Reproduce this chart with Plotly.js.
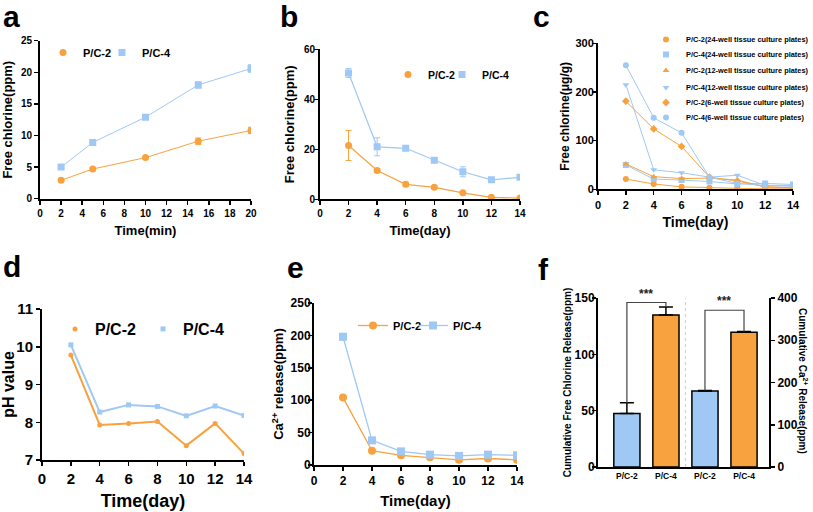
<!DOCTYPE html>
<html><head><meta charset="utf-8">
<script src="https://cdn.plot.ly/plotly-3.0.1.min.js"></script>
<style>html,body{margin:0;padding:0;background:#fff;width:813px;height:512px;overflow:hidden}#chart{width:813px;height:512px;overflow:hidden}</style>
</head><body><div id="chart"></div>
<script>
const ORANGE = '#F7A23E', BLUE = '#9FC8F4';
const FONT = 'Arial, "Liberation Sans", sans-serif';

// ---- panel a ----
const aTime = [2, 5, 10, 15, 20];
const aPC2 = [2.9, 4.7, 6.5, 9.1, 10.8];
const aPC2err = [0.2, 0.2, 0.2, 0.5, 0.5];
const aPC4 = [5.0, 8.9, 12.9, 18.0, 20.6];
const aPC4err = [0.2, 0.3, 0.3, 0.5, 0.6];
// ---- panel b ----
const bDay = [2, 4, 6, 8, 10, 12, 14];
const bPC2 = [21.5, 11.5, 6.0, 4.8, 2.6, 0.8, 0.5];
const bPC2err = [6.0, 0.8, 0.8, 0.5, 0.5, 0.3, 0.3];
const bPC4 = [50.5, 21.0, 20.4, 15.6, 11.0, 7.8, 8.8];
const bPC4err = [1.8, 3.6, 0.8, 0.8, 2.0, 0.5, 0.5];
// ---- panel c ----
const cDay = [2, 4, 6, 8, 10, 12, 14];
const cNames = ['P/C-2(24-well tissue culture plates)', 'P/C-4(24-well tissue culture plates)',
  'P/C-2(12-well tissue culture plates)', 'P/C-4(12-well tissue culture plates)',
  'P/C-2(6-well tissue culture plates)', 'P/C-4(6-well tissue culture plates)'];
const c24PC2 = [21, 11, 5, 3, 2, 1, 1];
const c24PC4 = [50, 21, 19, 16, 11, 12, 10];
const c12PC2 = [52, 26, 22, 23, 19, 5, 3];
const c12PC4 = [215, 40, 34, 25, 29, 8, 6];
const c6PC2 = [181, 124, 88, 25, 17, 5, 3];
const c6PC4 = [255, 147, 116, 25, 12, 8, 8];
// ---- panel d ----
const dDay = [2, 4, 6, 8, 10, 12, 14];
const dPC2 = [9.78, 7.93, 7.97, 8.02, 7.38, 7.97, 7.17];
const dPC4 = [10.05, 8.27, 8.46, 8.42, 8.17, 8.43, 8.18];
// ---- panel e ----
const eDay = [2, 4, 6, 8, 10, 12, 14];
const ePC2 = [104, 22, 15, 12, 8, 10, 8];
const ePC2err = [2, 2, 1.5, 1, 1, 1, 1];
const ePC4 = [198, 38, 21, 16, 14, 16, 15];
const ePC4err = [5, 2, 1.5, 1, 1, 1, 1];
// ---- panel f ----
const fLabels = ['P/C-2', 'P/C-4', 'P/C-2', 'P/C-4'];
const fChlorine = [47.5, 135];
const fChlorineErr = [9.5, 7];
const fCa = [180, 319];
const fCaErr = [1, 2];
const fSigText = ['***', '***'];
const fSigTop = [146, 371];

const W = 813, H = 512;
const px = v => v / W, py = v => 1 - v / H;

function baseAxis(fs) {
  return {showline: true, linewidth: 2, linecolor: '#000', ticks: 'outside', ticklen: 4, tickwidth: 1.5,
    tickcolor: '#000', showgrid: false, zeroline: false, fixedrange: true,
    tickfont: {family: FONT, size: fs, color: '#000', weight: 700}};
}
function xa(l, r, range, dtick, fs, anchor, title, standoff) {
  const a = Object.assign(baseAxis(fs), {domain: [px(l), px(r)], range: range, dtick: dtick, anchor: anchor});
  if (title) a.title = {text: title, standoff: standoff, font: {family: FONT, size: fs + 3, color: '#000', weight: 700}};
  return a;
}
function ya(b, t, range, dtick, fs, anchor, title, standoff, tfs, lso) {
  const a = Object.assign(baseAxis(fs), {domain: [py(b), py(t)], range: range, dtick: dtick, anchor: anchor,
    ticklabelstandoff: lso || 0});
  if (title) a.title = {text: title, standoff: standoff, font: {family: FONT, size: tfs || fs + 3, color: '#000', weight: 700}};
  return a;
}

// one single-entry legend per item, so each legend symbol sits where the reference puts it
const legends = {};
let legCount = 0;
function legendAt(mx, my, fs) {
  legCount++;
  const key = legCount === 1 ? 'legend' : 'legend' + legCount;
  legends[key] = {x: px(mx - 20), y: py(my - (fs > 13 ? 16 : 14)), xanchor: 'left', yanchor: 'top',
    orientation: 'v', bgcolor: 'rgba(0,0,0,0)', font: {family: FONT, size: fs, color: '#000', weight: 700}};
  return key;
}

const traces = [];
function series(x, y, err, color, name, xa_, ya_, leg, opts) {
  traces.push({x: x, y: y, mode: 'lines', line: {color: color, width: opts.lw}, xaxis: xa_, yaxis: ya_,
    showlegend: false, hoverinfo: 'skip'});
  const t = {x: x, y: y, mode: 'markers', name: name, xaxis: xa_, yaxis: ya_, legend: leg,
    marker: {color: color, size: opts.ms, symbol: opts.sym}, showlegend: true};
  if (err) t.error_y = {type: 'data', array: err, visible: true, color: color, thickness: 1, width: 3};
  traces.push(t);
}
// a
series(aTime, aPC2, aPC2err, ORANGE, 'P/C-2', 'x', 'y', legendAt(63, 52, 11), {lw: 1, ms: 7, sym: 'circle'});
series(aTime, aPC4, aPC4err, BLUE, 'P/C-4', 'x', 'y', legendAt(122, 52, 11), {lw: 1, ms: 7, sym: 'square'});
// b
series(bDay, bPC2, bPC2err, ORANGE, 'P/C-2', 'x2', 'y2', legendAt(408, 74, 10.5), {lw: 1.2, ms: 7, sym: 'circle'});
series(bDay, bPC4, bPC4err, BLUE, 'P/C-4', 'x2', 'y2', legendAt(462, 74, 10.5), {lw: 1.2, ms: 7, sym: 'square'});
// c
const cSeries = [c24PC2, c24PC4, c12PC2, c12PC4, c6PC2, c6PC4];
const cColors = [ORANGE, BLUE, ORANGE, BLUE, ORANGE, BLUE];
const cSyms = ['circle', 'square', 'triangle-up', 'triangle-down', 'diamond', 'circle'];
const cLegY = [39, 54, 70, 87, 102, 117];
cSeries.forEach((s, i) => series(cDay, s, null, cColors[i], cNames[i], 'x3', 'y3',
  legendAt(666, cLegY[i], 7.4), {lw: 1, ms: 6, sym: cSyms[i]}));
// d
series(dDay, dPC2, null, ORANGE, 'P/C-2', 'x4', 'y4', legendAt(75, 328, 16), {lw: 2, ms: 5, sym: 'circle'});
series(dDay, dPC4, null, BLUE, 'P/C-4', 'x4', 'y4', legendAt(163, 328, 16), {lw: 2, ms: 5, sym: 'square'});
// e
[[ePC2, ePC2err, ORANGE, 'P/C-2', 'circle', 373], [ePC4, ePC4err, BLUE, 'P/C-4', 'square', 433]].forEach(s => {
  traces.push({x: eDay, y: s[0], mode: 'lines+markers', name: s[3], xaxis: 'x5', yaxis: 'y5', legend: legendAt(s[5], 325, 11),
    line: {color: s[2], width: 1.3}, marker: {color: s[2], size: 8, symbol: s[4]},
    error_y: {type: 'data', array: s[1], visible: true, color: s[2], thickness: 1, width: 3}});
});
// f
const barLine = {color: '#000', width: 1.5};
const barErr = (e) => ({type: 'data', symmetric: false, array: [e], arrayminus: [0], visible: true,
  color: '#000', thickness: 1.5, width: 7});
traces.push({type: 'bar', x: [0], y: [fChlorine[0]], width: 0.67, xaxis: 'x6', yaxis: 'y6', showlegend: false,
  marker: {color: BLUE, line: barLine}, error_y: barErr(fChlorineErr[0])});
traces.push({type: 'bar', x: [1], y: [fChlorine[1]], width: 0.67, xaxis: 'x6', yaxis: 'y6', showlegend: false,
  marker: {color: ORANGE, line: barLine}, error_y: barErr(fChlorineErr[1])});
traces.push({type: 'bar', x: [2], y: [fCa[0]], width: 0.67, xaxis: 'x6', yaxis: 'y7', showlegend: false,
  marker: {color: BLUE, line: barLine}, error_y: barErr(fCaErr[0])});
traces.push({type: 'bar', x: [3], y: [fCa[1]], width: 0.67, xaxis: 'x6', yaxis: 'y7', showlegend: false,
  marker: {color: ORANGE, line: barLine}, error_y: barErr(fCaErr[1])});

const shapes = [
  {type: 'path', xref: 'x6', yref: 'y6', line: {color: '#444', width: 1.2},
   path: `M 0,${fChlorine[0] + fChlorineErr[0]} L 0,${fSigTop[0]} L 1,${fSigTop[0]} L 1,${fChlorine[1] + fChlorineErr[1]}`},
  {type: 'path', xref: 'x6', yref: 'y7', line: {color: '#444', width: 1.2},
   path: `M 2,${fCa[0] + fCaErr[0]} L 2,${fSigTop[1]} L 3,${fSigTop[1]} L 3,${fCa[1] + fCaErr[1]}`},
  {type: 'line', xref: 'x6', yref: 'y6', x0: 1.5, x1: 1.5, y0: 0, y1: 150, line: {color: '#ccc', width: 1, dash: 'dot'}}
];

const letter = (t, x, y) => ({text: t, xref: 'paper', yref: 'paper', x: px(x), y: py(y), xanchor: 'left', yanchor: 'top',
  showarrow: false, font: {family: FONT, size: 30, color: '#000', weight: 700}});
const annotations = [
  letter('a', 1, -2), letter('b', 278, -2), letter('c', 531, -2),
  letter('d', 1, 248), letter('e', 285, 249), letter('f', 536, 251),
  {text: fSigText[0], xref: 'x6', yref: 'y6', x: 0.5, y: fSigTop[0], xanchor: 'center', yanchor: 'bottom', showarrow: false,
   font: {family: FONT, size: 12, color: '#222', weight: 700}},
  {text: fSigText[1], xref: 'x6', yref: 'y7', x: 2.5, y: fSigTop[1], xanchor: 'center', yanchor: 'bottom', showarrow: false,
   font: {family: FONT, size: 12, color: '#222', weight: 700}},
  {text: 'Cumulative Ca<sup>2+</sup> Release(ppm)', xref: 'paper', yref: 'paper', x: px(803), y: py(381),
   xanchor: 'center', yanchor: 'middle', textangle: 90, showarrow: false,
   font: {family: FONT, size: 10, color: '#000', weight: 700}}
];

const layout = Object.assign({
  width: W, height: H, autosize: false, margin: {l: 0, r: 0, t: 0, b: 0, autoexpand: false},
  paper_bgcolor: '#fff', plot_bgcolor: 'rgba(0,0,0,0)',
  font: {family: FONT, color: '#000'}, showlegend: true,
  xaxis: xa(40, 251, [0, 20], 2, 10, 'y', 'Time(min)', 8),
  yaxis: ya(198.7, 40.7, [0, 25], 5, 10, 'x', 'Free chlorine(ppm)', 6),
  xaxis2: xa(320, 520, [0, 14], 2, 10, 'y2', 'Time(day)', 8),
  yaxis2: ya(199.3, 49.3, [0, 60], 20, 10, 'x2', 'Free chlorine(ppm)', 6, null, -3),
  xaxis3: xa(598, 793, [0, 14], 2, 11, 'y3', 'Time(day)', 8),
  yaxis3: ya(189.3, 43.3, [0, 300], 100, 11, 'x3', 'Free chlorine(μg/g)', 3, 12, -4),
  xaxis4: xa(42, 244, [0, 14], 2, 15, 'y4', 'Time(day)', 8),
  yaxis4: ya(460, 309, [7, 11], 1, 15, 'x4', 'pH value', 6, 16),
  xaxis5: xa(314, 517, [0, 14], 2, 12, 'y5', 'Time(day)', 8),
  yaxis5: ya(465, 303, [0, 250], 50, 12, 'x5', 'Ca<sup>2+</sup> release(ppm)', 4, 13, -5),
  xaxis6: Object.assign(xa(598, 769, [-0.74, 3.64], 1, 8.5, 'y6', '', 0),
    {tickmode: 'array', tickvals: [0, 1, 2, 3], ticktext: fLabels, ticks: ''}),
  yaxis6: ya(467, 298, [0, 150], 50, 12, 'x6', 'Cumulative Free Chlorine Release(ppm)', 1, 10, -5),
  yaxis7: Object.assign(ya(467, 298, [0, 400], 100, 12, 'x6', '', 0), {overlaying: 'y6', side: 'right'}),
  shapes: shapes, annotations: annotations
}, legends);

Plotly.newPlot('chart', traces, layout, {staticPlot: true, displayModeBar: false});
</script></body></html>
